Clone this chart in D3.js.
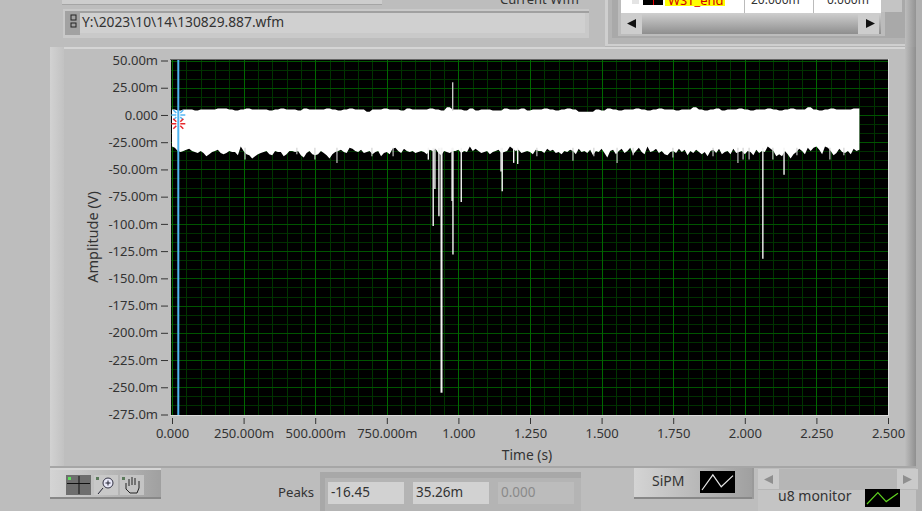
<!DOCTYPE html>
<html><head><meta charset="utf-8">
<script src="https://cdn.jsdelivr.net/npm/d3@7/dist/d3.min.js"></script>
<style>html,body{margin:0;padding:0;background:#bdbdbd;overflow:hidden}svg{display:block}text{font-family:"Noto Sans",sans-serif}</style>
</head><body><svg id="c" width="922" height="511"></svg>
<script>
const filePath = "Y:\\2023\\10\\14\\130829.887.wfm";
const xTickValues = [0,0.25,0.5,0.75,1,1.25,1.5,1.75,2,2.25,2.5];
const xTickLabels = ["0.000","250.000m","500.000m","750.000m","1.000","1.250","1.500","1.750","2.000","2.250","2.500"];
const yTickValues = [50,25,0,-25,-50,-75,-100,-125,-150,-175,-200,-225,-250,-275];
const yTickLabels = ["50.00m","25.00m","0.000","-25.00m","-50.00m","-75.00m","-100.0m","-125.0m","-150.0m","-175.0m","-200.0m","-225.0m","-250.0m","-275.0m"];
const envelopeStep = 0.01;
// lower edge of the white noise band (mV), one value per 10 ms
const lowerEdge = [
-29,-30,-33,-34,-33,-32,-31,-33,-34,-35,-33,-35,-38,-36,-34,-33,-32,-35,-36,-35,
-33,-34,-34,-37,-29,-33,-36,-37,-40,-38,-36,-35,-34,-33,-36,-37,-33,-34,-34,-38,
-36,-33,-33,-34,-33,-37,-39,-35,-33,-36,-37,-36,-33,-35,-37,-40,-36,-34,-33,-32,
-34,-35,-30,-31,-33,-34,-32,-35,-34,-33,-36,-34,-33,-38,-35,-34,-36,-31,-30,-33,
-35,-31,-33,-34,-33,-35,-34,-33,-34,-36,-32,-33,-31,-35,-37,-33,-34,-35,-33,-33,
-32,-35,-33,-34,-29,-33,-31,-33,-35,-34,-33,-36,-34,-33,-32,-35,-34,-33,-29,-31,
-33,-32,-35,-34,-33,-34,-36,-32,-33,-33,-35,-31,-33,-32,-35,-34,-36,-33,-34,-32,
-33,-36,-31,-34,-33,-35,-32,-37,-33,-34,-31,-35,-39,-33,-32,-36,-33,-31,-35,-33,
-30,-36,-33,-30,-34,-36,-29,-34,-33,-31,-35,-33,-36,-37,-34,-33,-35,-31,-34,-32,
-37,-33,-35,-32,-34,-36,-34,-38,-33,-32,-35,-31,-36,-34,-33,-36,-31,-35,-34,-33,
-36,-33,-34,-37,-32,-35,-33,-34,-29,-31,-33,-38,-36,-38,-33,-36,-40,-36,-34,-31,
-33,-36,-30,-33,-30,-29,-32,-36,-29,-30,-33,-37,-35,-31,-34,-35,-33,-36,-31,-33,-32
];
// upper edge of the white noise band (mV), one value per 20 ms
const upperEdge = [
5,4,5,5,4,5,5,5,6,6,5,4,5,6,5,5,5,4,5,6,5,5,4,6,5,5,5,6,5,4,
5,6,5,5,3,5,5,6,5,5,4,6,5,5,5,6,5,4,7,5,5,4,6,4,5,5,4,4,6,5,
5,6,4,5,5,6,5,4,5,6,5,3,3,3,5,4,6,5,4,5,5,6,5,4,5,6,5,5,4,5,
5,7,5,4,5,6,4,5,5,6,5,4,5,5,6,5,4,5,6,5,5,7,5,4,5,6,5,5,5,6,6
];
// isolated spikes: time (s) and extreme value (mV)
const spikeTimes  = [0.895,0.912,0.918,0.932,0.941,0.978,0.981,1.010,1.149,1.153,1.193,1.207,2.063,2.137];
const spikeValues = [-41,-102,-68,-93,-255,-79,-128,-80,-52,-70,-44,-45,-132,-55];
// short grey ticks hanging under the band
const fringeTimes  = [0.255,0.436,0.576,0.499,0.698,0.772,1.274,1.400,1.473,1.554,1.610,1.749,1.889,1.976,1.994,2.015,2.098,2.182,2.297,2.346];
const fringeValues = [-41,-36,-44,-41,-38,-38,-38,-42,-38,-44,-37,-39,-38,-44,-41,-41,-41,-37,-41,-37];
const upSpikeTime = 0.98, upSpikeValue = 30;
const cursorTime = 0.022, cursorValues = [0,-8];
const peakFields = ["-16.45","35.26m","0.000"];
const legendShape = [[0,1],[0.35,0.05],[0.62,0.8],[1,0.1]];

const svg = d3.select("#c");
const R=(x,y,w,h,f,p=svg)=>p.append("rect").attr("x",x).attr("y",y).attr("width",w).attr("height",h).attr("fill",f);
const T=(x,y,s,o={})=>svg.append("text").attr("x",x).attr("y",y).text(s).attr("font-size",o.fs||13).attr("fill",o.c||"#333").attr("text-anchor",o.a||"start");
const defs=svg.append("defs");
const grad=(id,stops,vert)=>{const g=defs.append("linearGradient").attr("id",id);if(vert)g.attr("x2",0).attr("y2",1);stops.forEach((c,i)=>g.append("stop").attr("offset",i/(stops.length-1)).attr("stop-color",c));return `url(#${id})`};
const gradH=grad("gh",["#d4d4d4","#a0a0a0"],false), gradR=grad("gr",["#bdbdbd","#8f8f8f"],false), gradS=grad("gs",["#cfcfcf","#8e8e8e"],true), gradL=grad("gl",["#d2d2d2","#c2c2c2"],false);

// window chrome
R(0,0,922,511,"#bdbdbd");
R(62,0,320,4,"#cdcdcd"); R(62,4,320,1,"#a5a5a5");
R(63,9,526,29,"#c9c9c9"); R(65,11,524,2,"#a0a0a0"); R(65,11,15,24,"#a2a2a2"); R(80,13,505,20,"#d0d0d0");
R(71,15,5,5,"none").attr("stroke","#222"); R(71,23,5,4,"none").attr("stroke","#222");
T(82,27,filePath,{fs:13.8,c:"#333"});
T(500,4,"Current Wfm",{fs:13});
// right-top panel
R(605,0,317,47,"#b4b4b4"); R(605,0,3,45,"#cfcfcf"); R(605,44,300,2,"#cfcfcf");
R(612,0,293,38,"#a9a9a9"); R(618,0,267,36,"#bcbcbc");
R(621,0,260,13,"#fff"); R(643,0,20,5,"#000"); R(653,0,1,5,"#e00"); R(665,0,60,6,"#ff0");
T(668,5,"WST_end",{fs:13,c:"#d00000"}); T(751,4,"20.000m",{fs:12}); T(827,4,"0.000m",{fs:12});
R(632,0,7,4,"#e4e4e4"); R(744,0,1,13,"#bbb"); R(813,0,1,13,"#bbb"); R(881,0,21,12,"#c4c4c4");
R(621,13,260,21,gradS);
R(621,13,21,21,"#cdcdcd"); R(858,13,21,21,"#cdcdcd");
svg.append("path").attr("d","M627 23.5l9-4.5v9zM875 23.5l-9-4.5v9z").attr("fill","#111");
R(905,0,12,47,gradR);

// graph panel
R(50,47,866,420,"#bebebe"); R(50,47,866,2,"#d5d5d5"); R(50,47,14,420,gradL);
R(905,47,11,420,gradR); R(916,0,6,511,"#b0b0b0"); R(50,466,866,2,"#a6a6a6");

// plot
const x = d3.scaleLinear().domain([0,2.5]).range([172,888]);
const y = d3.scaleLinear().domain([-275,50]).range([414.5,60.5]);
R(171,60,717,355,"#000");
R(170,59,719,1,"#666"); R(170,415,719,1,"#dcdcdc"); R(888,59,1,357,"#dcdcdc");
defs.append("clipPath").attr("id","plot").append("rect").attr("x",171).attr("y",60).attr("width",717).attr("height",355);
const plot = svg.append("g").attr("clip-path","url(#plot)");
const minorX = d3.range(0,2.5001,0.05).filter(v=>Math.abs(v/0.25-Math.round(v/0.25))>1e-6);
const minorY = d3.range(-275,50.001,25/3).filter(v=>Math.abs(v/25-Math.round(v/25))>1e-6);
const snap=v=>Math.round(v)+0.5;
const lineV=(v,c)=>plot.append("line").attr("x1",snap(x(v))).attr("x2",snap(x(v))).attr("y1",60).attr("y2",415).attr("stroke",c);
const lineH=(v,c)=>plot.append("line").attr("y1",snap(y(v))).attr("y2",snap(y(v))).attr("x1",171).attr("x2",888).attr("stroke",c);
minorY.forEach(v=>lineH(v,"#003000")); minorX.forEach(v=>lineV(v,"#003400"));
yTickValues.forEach(v=>lineH(v,"#005400")); xTickValues.forEach(v=>lineV(v,"#006800"));

// noise band
const pts = lowerEdge.map((v,i)=>({t:i*envelopeStep,lo:v,hi:upperEdge[Math.floor(i/2)]}));
plot.append("path").attr("fill","#fff").attr("d",d3.area().curve(d3.curveLinear).x(d=>x(d.t)).y0(d=>y(d.lo)).y1(d=>y(d.hi))(pts));
// spikes
plot.selectAll("line.f").data(fringeTimes).join("line").attr("class","f")
  .attr("x1",d=>x(d)).attr("x2",d=>x(d)).attr("y1",y(-30)).attr("y2",(d,i)=>y(fringeValues[i])).attr("stroke","#d0d0d0").attr("stroke-width",1.1);
plot.selectAll("line.s").data(spikeTimes).join("line").attr("class","s")
  .attr("x1",d=>x(d)).attr("x2",d=>x(d)).attr("y1",y(-30)).attr("y2",(d,i)=>y(spikeValues[i])).attr("stroke","#f4f4f4").attr("stroke-width",(d,i)=>spikeValues[i]<-200?2:1.4);
plot.append("line").attr("x1",x(upSpikeTime)).attr("x2",x(upSpikeTime)).attr("y1",y(upSpikeValue)).attr("y2",y(4)).attr("stroke","#c8c8c8").attr("stroke-width",1.4);

// cursor
const cx=x(cursorTime);
plot.append("line").attr("x1",cx).attr("x2",cx).attr("y1",60).attr("y2",415).attr("stroke","#4fb4f0").attr("stroke-width",2);
const cross=(v,c)=>{const cy=y(v);const d=`M${cx-7} ${cy}H${cx-2}M${cx+2} ${cy}H${cx+7}M${cx-5} ${cy-5}l3 3M${cx+5} ${cy-5}l-3 3M${cx-5} ${cy+5}l3 -3M${cx+5} ${cy+5}l-3 -3`;
  plot.append("path").attr("d",d).attr("stroke",c).attr("fill","none").attr("stroke-width",1.5);};
cross(cursorValues[0],"#58b8f5"); cross(cursorValues[1],"#e8282c");

// axes
const xAxis=d3.axisBottom(x).tickValues(xTickValues).tickSize(6).tickPadding(5).tickFormat((d,i)=>xTickLabels[i]);
const yAxis=d3.axisLeft(y).tickValues(yTickValues).tickSize(7).tickPadding(3).tickFormat((d,i)=>yTickLabels[i]);
const gx=svg.append("g").attr("transform","translate(0,418)").call(xAxis);
const gy=svg.append("g").attr("transform","translate(168,0)").call(yAxis);
[gx,gy].forEach(g=>{g.select(".domain").remove();g.selectAll("line").attr("stroke","#333");g.selectAll("text").attr("font-size",13).attr("font-family",'"Noto Sans",sans-serif').attr("fill","#333");});
T(527,460,"Time (s)",{a:"middle",fs:13.8});
svg.append("text").attr("transform","translate(98,237) rotate(-90)").attr("text-anchor","middle").attr("font-size",14.5).attr("fill","#333").text("Amplitude (V)");

// toolbar
R(50,469,111,30,gradH); R(50,468,111,2,"#d6d6d6"); R(50,497,111,2,"#888");
R(66,475,25,20,"#6e6e6e"); R(94,475,24,20,"#c8c8c8"); R(120,475,24,20,"#c4c4c4");
svg.append("path").attr("d","M67 483.5H90M79 476V494").attr("stroke","#111");
svg.append("circle").attr("cx",108).attr("cy",483).attr("r",5).attr("fill","#e8e8f8").attr("stroke","#334");
svg.append("path").attr("d","M103 488l-5 6M105.5 483h5M108 480.5v5").attr("stroke","#223");
svg.append("path").attr("d","M126 483v6l4 4h7l2-5v-7M129 486v-7M132 485v-8M135 485v-7").attr("stroke","#222").attr("fill","none");
R(68,477,3,3,"#5fe05f"); R(96,477,3,3,"#5a7a5a"); R(122,477,3,3,"#5a7a5a");

// peaks
T(278,497,"Peaks",{fs:13.2});
R(320,472,261,39,"#a8a8a8"); R(325,478,256,33,"#b4b4b4");
[[328,76],[413,76],[498,76]].forEach(([px,w],i)=>{R(px,482,w,22,i<2?"#d2d2d2":"#bcbcbc");T(px+3,497,peakFields[i],{fs:13.5,c:i<2?"#333":"#8a8a8a"});});

// SiPM legend
const icon=(ox,oy,w,h,c)=>{const lx=d3.scaleLinear().domain([0,1]).range([ox+2,ox+w-2]),ly=d3.scaleLinear().domain([0,1]).range([oy+3,oy+h-3]);
  R(ox,oy,w,h,"#000");svg.append("path").attr("fill","none").attr("stroke",c).attr("stroke-width",1.2).attr("d",d3.line().x(d=>lx(d[0])).y(d=>ly(d[1]))(legendShape));};
R(634,468,118,30,gradH); R(634,497,120,2,"#888"); R(752,468,2,31,"#9a9a9a");
T(652,486,"SiPM",{fs:14}); icon(700,471,35,22,"#e6e6e6");
// right legend
R(758,469,160,21,"#b6b6b6"); R(758,469,21,20,"#cacaca"); R(897,469,21,20,"#cacaca");
svg.append("path").attr("d","M764 479.5l9-4.5v9zM912 479.5l-9-4.5v9z").attr("fill","#8f8f8f");
R(758,490,158,21,"#c4c4c4");
T(778,501,"u8 monitor",{fs:14}); icon(865,489,35,18,"#5fd020");
</script></body></html>
